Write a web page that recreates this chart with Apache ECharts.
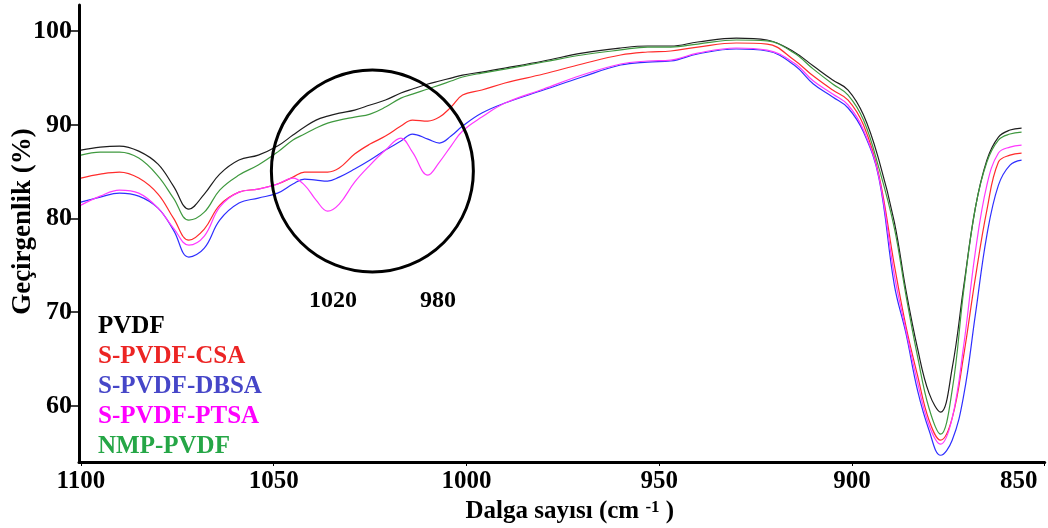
<!DOCTYPE html>
<html>
<head>
<meta charset="utf-8">
<script src="https://cdn.jsdelivr.net/npm/echarts/dist/echarts.min.js"></script>
<style>
  html, body { margin: 0; padding: 0; background: #fff; }
  #chart { width: 1048px; height: 528px; }
</style>
</head>
<body>
<div id="chart"></div>
<script>
// wavenumber (cm-1) and transmittance (%)
const wavenumbers = [1100, 1095, 1090, 1085, 1080, 1076, 1072, 1068, 1064, 1059, 1054, 1049, 1045, 1042, 1039, 1036, 1033, 1029, 1025, 1021, 1017, 1014, 1010, 1007, 1004, 1001, 996, 990, 980, 970, 960, 953, 947, 940, 930, 922, 915, 910, 905, 901, 897, 893, 889, 886, 883, 880, 877, 874, 871, 868, 865, 862, 859, 856]

const pvdf = [87.31, 87.63, 87.74, 87.2, 85.81, 83.46, 81.01, 82.61, 84.74, 86.24, 86.77, 87.74, 88.91, 89.77, 90.51, 90.94, 91.26, 91.58, 92.12, 92.65, 93.4, 93.83, 94.36, 94.68, 95.0, 95.32, 95.64, 96.07, 96.82, 97.67, 98.21, 98.42, 98.42, 98.85, 99.27, 99.06, 97.78, 96.28, 94.79, 93.72, 91.05, 86.24, 79.62, 72.35, 66.15, 61.35, 59.32, 64.02, 72.78, 81.11, 86.24, 88.7, 89.45, 89.66]
const csa = [84.32, 84.74, 84.96, 84.32, 82.61, 80.04, 77.69, 78.87, 81.43, 82.82, 83.14, 83.68, 84.42, 84.96, 84.96, 84.96, 85.39, 86.88, 87.95, 88.8, 89.87, 90.51, 90.4, 90.83, 91.9, 93.18, 93.72, 94.47, 95.43, 96.5, 97.46, 97.78, 97.89, 98.31, 98.74, 98.63, 96.92, 95.21, 93.72, 92.65, 89.98, 84.64, 75.02, 68.51, 63.27, 58.46, 56.33, 58.68, 65.41, 73.63, 80.9, 86.03, 86.77, 86.99]
const dbsa = [81.75, 82.29, 82.71, 82.39, 81.11, 78.76, 75.88, 76.84, 79.83, 81.65, 82.18, 82.71, 83.68, 84.21, 84.1, 84.0, 84.42, 85.28, 86.24, 87.31, 88.27, 89.02, 88.48, 88.06, 88.8, 89.87, 91.26, 92.33, 93.72, 95.11, 96.39, 96.71, 96.82, 97.57, 98.1, 97.89, 96.39, 94.36, 92.97, 91.8, 89.23, 84.32, 72.89, 67.76, 61.67, 57.39, 54.72, 56.33, 61.13, 69.68, 78.23, 83.57, 85.71, 86.24]
const ptsa = [81.43, 82.39, 83.04, 82.71, 81.11, 78.98, 77.16, 78.12, 81.22, 82.82, 83.14, 83.68, 84.32, 83.57, 81.97, 80.79, 81.54, 83.89, 85.71, 87.31, 88.59, 87.09, 84.64, 86.03, 87.74, 89.34, 90.83, 92.33, 93.83, 95.32, 96.5, 96.82, 96.92, 97.67, 98.21, 97.99, 96.6, 94.68, 93.29, 92.12, 89.45, 84.42, 73.95, 68.08, 62.52, 57.93, 55.9, 58.68, 66.48, 76.41, 83.57, 86.99, 87.63, 87.84]
const nmp = [86.77, 87.09, 87.09, 86.45, 84.53, 82.18, 79.83, 80.68, 83.04, 84.64, 85.71, 87.09, 88.38, 89.02, 89.66, 90.19, 90.51, 90.83, 91.15, 91.9, 92.86, 93.29, 93.83, 94.25, 94.68, 95.11, 95.53, 95.96, 96.71, 97.46, 98.0, 98.31, 98.31, 98.63, 99.06, 98.96, 97.67, 95.95, 94.36, 93.18, 90.51, 85.39, 78.98, 71.82, 65.3, 59.74, 56.97, 61.67, 72.35, 81.11, 86.03, 88.38, 89.02, 89.23]

const xTicks = [850, 900, 950, 1000, 1050, 1100]
const yTicks = [60, 70, 80, 90, 100]

const seriesList = [
  { name: "PVDF", values: pvdf, line: "#1e1e1e", text: "#000000" },
  { name: "S-PVDF-CSA", values: csa, line: "#ff2c2c", text: "#ec2424" },
  { name: "S-PVDF-DBSA", values: dbsa, line: "#2f2fff", text: "#4646c8" },
  { name: "S-PVDF-PTSA", values: ptsa, line: "#ff38ff", text: "#ff00ff" },
  { name: "NMP-PVDF", values: nmp, line: "#3f993f", text: "#25a646" }
]

const serif = "'Liberation Serif', 'Times New Roman', serif"
const chart = echarts.init(document.getElementById("chart"))

const options = {
  backgroundColor: "#fff",
  animation: false,
  grid: { left: 79, right: 3.3, top: 5, bottom: 66, containLabel: false, outerBoundsMode: "none" },
  legend: {
    orient: "vertical",
    left: 88,
    top: 309,
    icon: "none",
    itemWidth: 0,
    itemHeight: 0,
    itemGap: 5,
    selectedMode: false,
    textStyle: { fontFamily: serif, fontWeight: "bold", fontSize: 25, lineHeight: 25 },
    data: seriesList.map(s => ({ name: s.name, textStyle: { color: s.text } }))
  },
  xAxis: {
    type: "value",
    inverse: true,
    min: 850,
    max: 1100.5,
    name: "Dalga sayısı (cm {sup|-1} )",
    nameLocation: "middle",
    nameGap: 37,
    nameMoveOverlap: false,
    nameTextStyle: {
      color: "#000",
      fontFamily: serif,
      fontWeight: "bold",
      fontSize: 25,
      padding: [0, 0, 0, 16],
      rich: { sup: { fontFamily: serif, fontWeight: "bold", fontSize: 17, verticalAlign: "top", color: "#000" } }
    },
    axisLine: { lineStyle: { color: "#000", width: 3 } },
    axisTick: { customValues: xTicks, length: 4, lineStyle: { color: "#000", width: 1 } },
    axisLabel: {
      customValues: xTicks,
      margin: 7,
      color: "#000",
      fontFamily: serif,
      fontWeight: "bold",
      fontSize: 25,
      formatter: v => (v === 850 ? "{end|850}" : String(v)),
      rich: { end: { fontFamily: serif, fontWeight: "bold", fontSize: 25, color: "#000", padding: [0, 52, 0, 0] } }
    },
    splitLine: { show: false }
  },
  yAxis: {
    type: "value",
    min: 54,
    max: 102.8,
    name: "Geçirgenlik (%)",
    nameLocation: "middle",
    nameRotate: 90,
    nameGap: 42,
    nameMoveOverlap: false,
    nameTextStyle: {
      color: "#000",
      fontFamily: serif,
      fontWeight: "bold",
      fontSize: 27,
      padding: [0, 0, 0, 24]
    },
    axisLine: { show: true, lineStyle: { color: "#000", width: 3 } },
    axisTick: { show: true, customValues: yTicks, length: 9, lineStyle: { color: "#000", width: 1.5 } },
    axisLabel: {
      customValues: yTicks,
      margin: 7,
      color: "#000",
      fontFamily: serif,
      fontWeight: "bold",
      fontSize: 26
    },
    splitLine: { show: false }
  },
  series: seriesList.map(s => ({
    name: s.name,
    type: "line",
    smooth: 0.4,
    symbol: "none",
    color: s.line,
    lineStyle: { color: s.line, width: 1.2 },
    data: wavenumbers.map((w, i) => [w, s.values[i]])
  }))
}
chart.setOption(options)

// circled region and the two band labels under it
const centre = chart.convertToPixel({ gridIndex: 0 }, [1024.4, 85.07])
const noteStyle = { fill: "#000", font: "bold 24px " + serif, textAlign: "center", textVerticalAlign: "middle" }
chart.setOption({
  graphic: [
    { type: "circle", shape: { cx: centre[0], cy: centre[1], r: 101 }, style: { fill: "none", stroke: "#000", lineWidth: 3 }, z: 10 },
    { type: "text", x: 333, y: 301, style: Object.assign({ text: "1020" }, noteStyle), z: 10 },
    { type: "text", x: 438, y: 301, style: Object.assign({ text: "980" }, noteStyle), z: 10 }
  ]
})
</script>
</body>
</html>
